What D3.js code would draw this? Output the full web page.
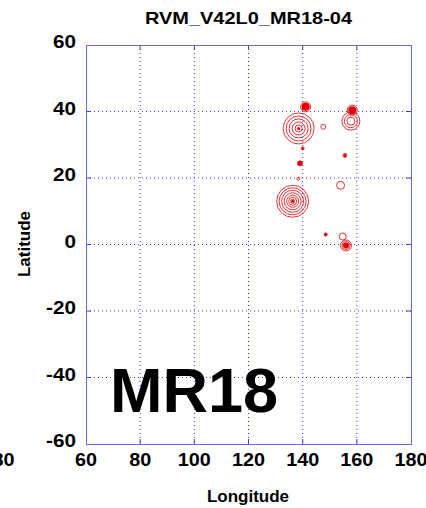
<!DOCTYPE html>
<html>
<head>
<meta charset="utf-8">
<script src="https://cdn.jsdelivr.net/npm/d3@7"></script>
<style>
  html, body { margin: 0; padding: 0; background: #fff; }
  text { font-family: "Liberation Sans", Arial, sans-serif; font-weight: bold; fill: #000; }
</style>
</head>
<body>
<svg id="chart" width="426" height="508"></svg>
<script>
// event positions (lon / lat) and ring levels
const lon = [138.5, 141.1, 147.6, 158.3, 157.8, 155.6, 139.0, 140.0, 138.4, 136.3, 154.0, 148.5, 154.8, 156.0];
const lat = [34.9, 41.4, 35.4, 40.4, 37.1, 26.8, 24.4, 28.9, 19.8, 13.0, 17.8, 3.0, 2.4, -0.3];
const ringLevels = [
  [15.5, 12.5, 9.5, 6.5, 3.5], [5, 3], [2.5], [5], [9, 6.5, 4], [2], [2.5], [1.5], [1.5],
  [16, 13.5, 11, 8.5, 6, 4, 2], [4], [1.5], [3.5], [5.5, 4]
];
const coreLevels = [1.5, 4, 0, 4, 0, 1.5, 2.5, 1.2, 0, 1.5, 0, 1.5, 0, 3];

const xTicks = [60, 80, 100, 120, 140, 160, 180];
const yTicks = [-60, -40, -20, 0, 20, 40, 60];
const title = 'RVM_V42L0_MR18-04';
const stamp = 'MR18';

const svg = d3.select('#chart');
const x = d3.scaleLinear().domain([60, 180]).range([86, 411]);
const y = d3.scaleLinear().domain([-60, 60]).range([444, 45]);
const r = d3.scaleLinear().domain([0, 16]).range([0, 16]);

const blue = '#3a3ae0';
const red = '#e00000';

// grid
const grid = svg.append('g');
grid.selectAll('.gx')
  .data(xTicks.slice(1, -1))
  .enter().append('line')
  .attr('x1', d => x(d)).attr('x2', d => x(d))
  .attr('y1', y(60)).attr('y2', y(-60))
  .attr('stroke', blue).attr('stroke-width', 1)
  .attr('stroke-dasharray', '1,3');
grid.selectAll('.gy')
  .data(yTicks.slice(1, -1))
  .enter().append('line')
  .attr('y1', d => y(d)).attr('y2', d => y(d))
  .attr('x1', x(60)).attr('x2', x(180))
  .attr('stroke', blue).attr('stroke-width', 1)
  .attr('stroke-dasharray', '1,3');

// stamp
svg.append('text')
  .attr('x', 110).attr('y', 412)
  .style('font-size', '63px')
  .text(stamp);

// events
const ev = svg.append('g')
  .selectAll('g')
  .data(lon.map((d, i) => ({lon: d, lat: lat[i], rings: ringLevels[i], core: coreLevels[i]})))
  .enter().append('g')
  .attr('transform', d => `translate(${x(d.lon)},${y(d.lat)})`);

ev.selectAll('circle.ring')
  .data(d => d.rings)
  .enter().append('circle')
  .attr('class', 'ring')
  .attr('r', d => r(d))
  .attr('fill', 'none')
  .attr('stroke', red)
  .attr('stroke-width', 0.8);

ev.filter(d => d.core > 0)
  .append('circle')
  .attr('r', d => r(d.core))
  .attr('fill', red);

// ticks + frame
const ticks = svg.append('g').attr('stroke', blue).attr('stroke-width', 1);
xTicks.slice(1, -1).forEach(t => {
  ticks.append('line').attr('x1', x(t)).attr('x2', x(t)).attr('y1', y(-60)).attr('y2', y(-60) - 5);
  ticks.append('line').attr('x1', x(t)).attr('x2', x(t)).attr('y1', y(60)).attr('y2', y(60) + 5);
});
yTicks.slice(1, -1).forEach(t => {
  ticks.append('line').attr('y1', y(t)).attr('y2', y(t)).attr('x1', x(60)).attr('x2', x(60) + 5);
  ticks.append('line').attr('y1', y(t)).attr('y2', y(t)).attr('x1', x(180)).attr('x2', x(180) - 5);
});
svg.append('rect')
  .attr('x', x(60) + 0.5).attr('y', y(60) + 0.5)
  .attr('width', x(180) - x(60)).attr('height', y(-60) - y(60))
  .attr('fill', 'none').attr('stroke', '#6a6ae8');

// tick labels (slightly wide, like the original)
svg.append('g').selectAll('text')
  .data(xTicks)
  .enter().append('text')
  .attr('transform', d => `translate(${x(d)},466) scale(1.1,1)`)
  .attr('text-anchor', 'middle')
  .style('font-size', '18px')
  .text(d => d);
svg.append('g').selectAll('text')
  .data(yTicks)
  .enter().append('text')
  .attr('transform', d => `translate(76,${y(d) + 3}) scale(1.15,1)`)
  .attr('text-anchor', 'end')
  .style('font-size', '18px')
  .text(d => d);

// neighbouring panel's clipped label
svg.append('text')
  .attr('transform', 'translate(-2,466) scale(1.1,1)')
  .attr('text-anchor', 'middle')
  .style('font-size', '18px')
  .text('180');

// titles
svg.append('text')
  .attr('x', 145).attr('y', 24)
  .attr('textLength', 207)
  .attr('lengthAdjust', 'spacingAndGlyphs')
  .style('font-size', '17px')
  .text(title);
svg.append('text')
  .attr('x', 248).attr('y', 502)
  .attr('text-anchor', 'middle')
  .style('font-size', '17px')
  .text('Longitude');
svg.append('text')
  .attr('transform', 'translate(30,244) rotate(-90)')
  .attr('text-anchor', 'middle')
  .style('font-size', '17px')
  .text('Latitude');
</script>
</body>
</html>
